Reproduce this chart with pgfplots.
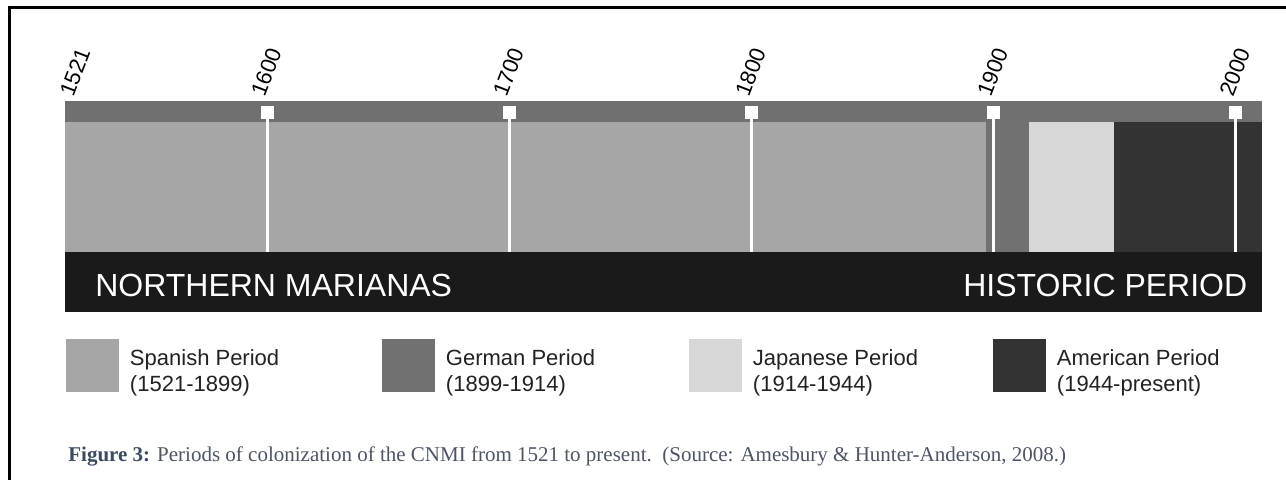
\documentclass[border=0pt]{standalone}
\usepackage{fontspec}
\setmainfont{Liberation Sans}
\newfontfamily\capfont{Liberation Serif}
\usepackage{pgfplots}
\pgfplotsset{compat=1.18}

\newlength\px
\setlength\px{0.5pt}

\definecolor{strip}{HTML}{707070}
\definecolor{spanish}{HTML}{A6A6A6}
\definecolor{german}{HTML}{717171}
\definecolor{japanese}{HTML}{D7D7D7}
\definecolor{american}{HTML}{333333}
\definecolor{band}{HTML}{1A1A1A}
\definecolor{legtext}{HTML}{222222}
\definecolor{capbold}{HTML}{3B4A60}
\definecolor{captext}{HTML}{4D5565}

\begin{document}
\begin{tikzpicture}
\useasboundingbox (0,0) rectangle (1286\px,-480\px);
% frame (left and top edges only)
\draw[line width=3\px] (9\px,-480\px) -- (9\px,-7.5\px) -- (1286\px,-7.5\px);

\begin{axis}[
  scale only axis,
  width=1197\px, height=211\px,
  at={(65\px,-101\px)}, anchor=north west,
  xmin=1516.4, xmax=2010.8,
  ymin=0, ymax=211,
  axis line style={draw=none},
  major tick length=0pt,
  ytick=\empty,
  xtick={1521,1600,1700,1800,1900,2000},
  xticklabels={1521,1600,1700,1800,1900,2000},
  xticklabel pos=upper,
  xticklabel style={xshift=-3\px, yshift=3\px, rotate=69, anchor=base west,
    inner sep=0pt, font=\fontsize{11}{11}\selectfont},
  clip=false,
  legend columns=4,
  legend image code/.code={\fill[#1] (0,-26.5\px) rectangle (53\px,26.5\px);},
  legend style={at={(0,0)}, anchor=north west, xshift=1\px, yshift=-27\px,
    draw=none, fill=none, inner sep=0pt, outer sep=0pt,
    row sep=0pt, column sep=0pt,
    font=\fontsize{11}{13}\selectfont,
    /tikz/every odd column/.append style={column sep=11\px},
    nodes={inner sep=0pt, outer sep=0pt, text=legtext}},
]
% top strip
\addplot[fill=strip, draw=none, forget plot]
  coordinates {(1516.4,190) (2010.8,190) (2010.8,211) (1516.4,211)};
% periods
\addplot[fill=spanish, draw=none]
  coordinates {(1516.4,60) (1897,60) (1897,190) (1516.4,190)};
\addlegendentry{\parbox[c]{252\px}{Spanish Period\\(1521-1899)}}
\addplot[fill=german, draw=none]
  coordinates {(1897,60) (1914.5,60) (1914.5,190) (1897,190)};
\addlegendentry{\parbox[c]{243\px}{German Period\\(1899-1914)}}
\addplot[fill=japanese, draw=none]
  coordinates {(1914.5,60) (1949.5,60) (1949.5,190) (1914.5,190)};
\addlegendentry{\parbox[c]{240\px}{Japanese Period\\(1914-1944)}}
\addplot[fill=american, draw=none]
  coordinates {(1949.5,60) (2010.8,60) (2010.8,190) (1949.5,190)};
\addlegendentry{\parbox[c]{200\px}{American Period\\(1944-present)}}
% bottom band
\addplot[fill=band, draw=none, forget plot]
  coordinates {(1516.4,0) (2010.8,0) (2010.8,60) (1516.4,60)};
% century lines and markers
\addplot[white, line width=3\px, forget plot, unbounded coords=jump]
  coordinates {(1600,60) (1600,200) (1600,nan)
               (1700,60) (1700,200) (1700,nan)
               (1800,60) (1800,200) (1800,nan)
               (1900,60) (1900,200) (1900,nan)
               (2000,60) (2000,200)};
\addplot[only marks, mark=square*, mark size=6\px,
  mark options={fill=white, draw=white}, forget plot]
  coordinates {(1600,200) (1700,200) (1800,200) (1900,200) (2000,200)};

\node[anchor=base west, text=white, inner sep=0pt,
  font=\fontsize{16}{16}\selectfont]
  at (rel axis cs:0.025,0) [yshift=15\px] {NORTHERN MARIANAS};
\node[anchor=base east, text=white, inner sep=0pt,
  font=\fontsize{16}{16}\selectfont]
  at (rel axis cs:0.988,0) [yshift=15\px] {HISTORIC PERIOD};
\end{axis}

\node[anchor=base west, inner sep=0pt, font=\capfont\fontsize{10.5}{10.5}\selectfont]
  at (68\px,-462\px)
  {\textcolor{capbold}{\textbf{Figure 3:}} \textcolor{captext}{Periods of colonization of the CNMI from 1521 to present.\ \ (Source: Amesbury \& Hunter-Anderson, 2008.)}};
\end{tikzpicture}
\end{document}
